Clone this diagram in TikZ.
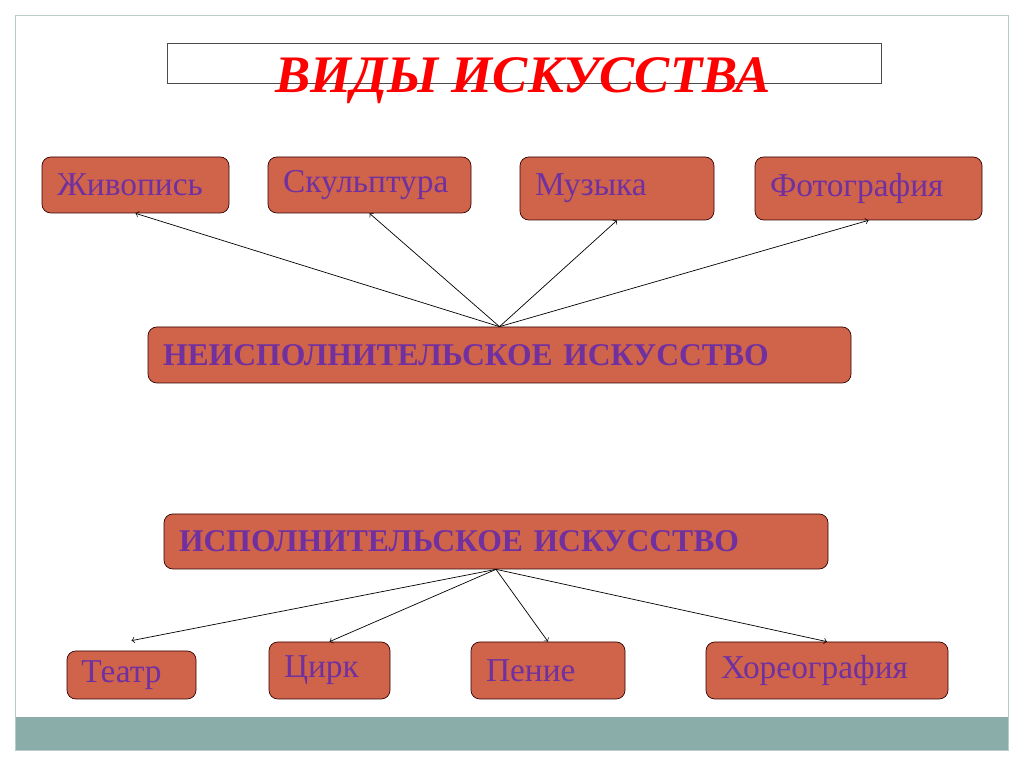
\documentclass[tikz,border=0pt]{standalone}
\usepackage{fontspec}
\setmainfont{Liberation Serif}
\usetikzlibrary{arrows}
\definecolor{boxfill}{HTML}{D0644A}
\definecolor{boxtext}{HTML}{7030A0}
\definecolor{strip}{HTML}{8AADA9}
\definecolor{frame}{HTML}{B8CCCA}
\tikzstyle{kind} = [rectangle, rounded corners=5pt, draw=black!80!red, fill=boxfill, text=boxtext, align=left, inner sep=0pt, font=\fontsize{19}{22}\selectfont]
\tikzstyle{group} = [kind, font=\fontsize{18}{22}\selectfont\bfseries]
\tikzstyle{edge} = [thin, ->, >=to]

\begin{document}
\begin{tikzpicture}[y=-1cm]
\useasboundingbox (0,0) rectangle (20.48,15.34);
\fill[white] (0,0) rectangle (20.48,15.34);
\fill[strip] (0.3,14.34) rectangle (20.16,15.0);
\draw[frame] (0.3,0.3) rectangle (20.16,15.0);
\draw[black!70, fill=white] (3.34,0.86) rectangle (17.62,1.66);
\node (title) at (10.46,1.62) [text=red, font=\fontsize{30}{34}\selectfont\bfseries\itshape] {ВИДЫ ИСКУССТВА};

\node (zhiv) at (2.71,3.70) [kind, minimum width=3.74cm, minimum height=1.12cm, text width=3.14cm] {Живопись};
\node (skulp) at (7.39,3.70) [kind, minimum width=4.06cm, minimum height=1.12cm, text width=3.46cm] {Скульптура};
\node (muz) at (12.34,3.77) [kind, minimum width=3.88cm, minimum height=1.26cm, text width=3.28cm] {Музыка\\[2pt]};
\node (foto) at (17.37,3.77) [kind, minimum width=4.54cm, minimum height=1.26cm, text width=3.94cm] {Фотография\\[2pt]};

\node (neisp) at (9.99,7.10) [group, minimum width=14.06cm, minimum height=1.12cm, text width=13.46cm] {НЕИСПОЛНИТЕЛЬСКОЕ ИСКУССТВО};
\node (isp) at (9.92,10.83) [group, minimum width=13.28cm, minimum height=1.10cm, text width=12.68cm] {ИСПОЛНИТЕЛЬСКОЕ ИСКУССТВО};

\node (teatr) at (2.63,13.50) [kind, minimum width=2.58cm, minimum height=0.96cm, text width=2.00cm] {\raisebox{-6pt}{Театр}};
\node (tsirk) at (6.59,13.41) [kind, minimum width=2.42cm, minimum height=1.14cm, text width=1.82cm] {Цирк};
\node (penie) at (10.96,13.41) [kind, minimum width=3.08cm, minimum height=1.14cm, text width=2.48cm] {Пение};
\node (khoreo) at (16.54,13.41) [kind, minimum width=4.84cm, minimum height=1.14cm, text width=4.24cm] {Хореография};

\draw [edge] (neisp.north) -- (zhiv.south);
\draw [edge] (neisp.north) -- (skulp.south);
\draw [edge] (neisp.north) -- (muz.south);
\draw [edge] (neisp.north) -- (foto.south);

\draw [edge] (isp.south) -- ([yshift=0.2cm]teatr.north);
\draw [edge] (isp.south) -- (tsirk.north);
\draw [edge] (isp.south) -- (penie.north);
\draw [edge] (isp.south) -- (khoreo.north);

\end{tikzpicture}
\end{document}
